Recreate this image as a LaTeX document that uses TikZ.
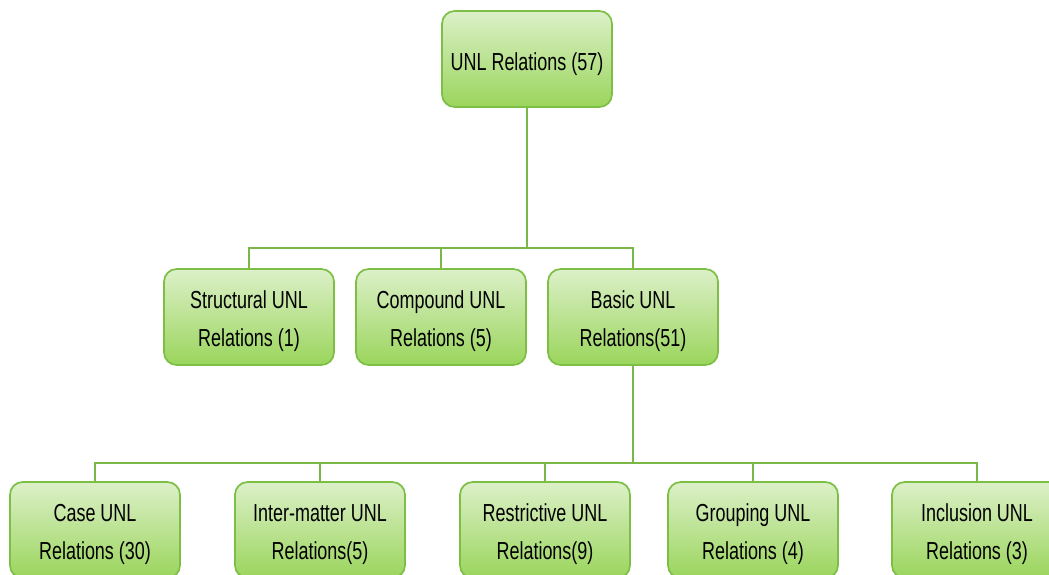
\documentclass[tikz,border=0pt]{standalone}
\usepackage{fontspec}
\setmainfont{Liberation Sans}[FakeStretch=0.73]
\definecolor{boxtop}{HTML}{DCF0C8}
\definecolor{boxbot}{HTML}{9AD55C}
\definecolor{boxline}{HTML}{7DBE45}
\definecolor{linkgreen}{HTML}{7AB648}
\begin{document}
\begin{tikzpicture}[x=0.025cm, y=-0.025cm,
    relbox/.style={draw=boxline, line width=1.2pt, rounded corners=9pt,
      top color=boxtop, bottom color=boxbot, minimum width=170*0.025cm,
      minimum height=96*0.025cm, align=center, font=\fontsize{17.5}{27}\selectfont,
      inner sep=0pt, text height=45.5pt},
    topbox/.style={relbox, text height=20pt},
    link/.style={draw=linkgreen, line width=1pt}]
      \useasboundingbox (0, 0) rectangle (1049, 574);
      \begin{scope}
      \clip (0, 0) rectangle (1049, 574);
      % boxes
      \node[topbox] (root) at (527, 59) {UNL Relations (57)};
      \node[relbox] (struct) at (249, 317) {Structural UNL\\Relations (1)};
      \node[relbox] (compound) at (441, 317) {Compound UNL\\Relations (5)};
      \node[relbox] (basic) at (633, 317) {Basic UNL\\Relations(51)};
      \node[relbox] (case) at (95, 530) {Case UNL\\Relations (30)};
      \node[relbox] (inter) at (320, 530) {Inter-matter UNL\\Relations(5)};
      \node[relbox] (restrict) at (545, 530) {Restrictive UNL\\Relations(9)};
      \node[relbox] (group) at (753, 530) {Grouping UNL\\Relations (4)};
      \node[relbox] (incl) at (977, 530) {Inclusion UNL\\Relations (3)};
      % lines
      \coordinate (j1) at (527, 248);
      \coordinate (j2) at (633, 463);
      \draw[link] (root) -- (j1);
      \draw[link] (j1) -| (struct);
      \draw[link] (j1) -| (compound);
      \draw[link] (j1) -| (basic);
      \draw[link] (basic) -- (j2);
      \draw[link] (j2) -| (case);
      \draw[link] (j2) -| (inter);
      \draw[link] (j2) -| (restrict);
      \draw[link] (j2) -| (group);
      \draw[link] (j2) -| (incl);
      \end{scope}
    \end{tikzpicture}
\end{document}
